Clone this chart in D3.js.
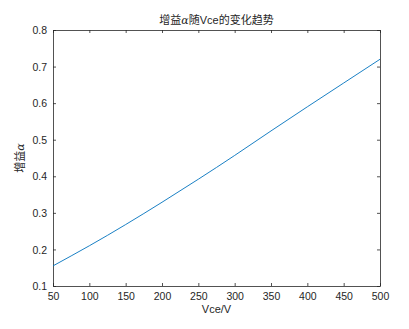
<!DOCTYPE html>
<html>
<head>
<meta charset="utf-8">
<script src="https://cdn.jsdelivr.net/npm/d3@7"></script>
<style>
  body { margin: 0; background: #fff; }
  text { font-family: "Liberation Sans", Arial, sans-serif; }
</style>
</head>
<body>
<svg></svg>
<script>
// data
const vce = [50, 100, 150, 200, 250, 300, 350, 400, 450, 500];
const alpha = [0.155, 0.21, 0.268, 0.329, 0.392, 0.457, 0.524, 0.59, 0.655, 0.72];
const xTicks = [50, 100, 150, 200, 250, 300, 350, 400, 450, 500];
const yTicks = [0.1, 0.2, 0.3, 0.4, 0.5, 0.6, 0.7, 0.8];

const width = 409, height = 329;
const margin = { top: 30, right: 29, bottom: 43, left: 53 };
const iw = width - margin.left - margin.right;
const ih = height - margin.top - margin.bottom;

const svg = d3.select("svg")
  .attr("width", width)
  .attr("height", height);

const g = svg.append("g")
  .attr("transform", `translate(${margin.left},${margin.top})`);

const x = d3.scaleLinear().domain([50, 500]).range([0, iw]);
const y = d3.scaleLinear().domain([0.1, 0.8]).range([ih, 0]);

const axisColor = "#262626";
const tickLen = 3;

// bottom + top axes
const xAxis = g.append("g")
  .attr("transform", `translate(0,${ih})`)
  .call(d3.axisBottom(x).tickValues(xTicks).tickSizeInner(-tickLen).tickSizeOuter(0).tickPadding(7));
const xTop = g.append("g")
  .call(d3.axisTop(x).tickValues(xTicks).tickSizeInner(-tickLen).tickSizeOuter(0).tickFormat(""));

// left + right axes
const yAxis = g.append("g")
  .call(d3.axisLeft(y).tickValues(yTicks).tickSizeInner(-tickLen).tickSizeOuter(0).tickPadding(6).tickFormat(d3.format(".1f")));
const yRight = g.append("g")
  .attr("transform", `translate(${iw},0)`)
  .call(d3.axisRight(y).tickValues(yTicks).tickSizeInner(-tickLen).tickSizeOuter(0).tickFormat(""));

[xAxis, xTop, yAxis, yRight].forEach(a => {
  a.select(".domain").attr("stroke", axisColor).attr("stroke-width", 0.8);
  a.selectAll(".tick line").attr("stroke", axisColor).attr("stroke-width", 0.8);
  a.selectAll(".tick text")
    .attr("fill", axisColor)
    .style("font-size", "10.5px")
    .style("font-family", "\"Liberation Sans\", Arial, sans-serif");
});
yAxis.selectAll(".tick text").attr("dy", "0.35em");

// the curve
const line = d3.line()
  .x((d, i) => x(vce[i]))
  .y(d => y(d))
  .curve(d3.curveNatural);

g.append("path")
  .datum(alpha)
  .attr("fill", "none")
  .attr("stroke", "#0072bd")
  .attr("stroke-width", 0.9)
  .attr("d", line);

// title
const title = svg.append("text")
  .attr("x", margin.left + iw / 2)
  .attr("y", 24)
  .attr("text-anchor", "middle")
  .attr("fill", "#262626")
  .style("font-size", "11px");
title.append("tspan").style("font-family", "\"Noto Sans CJK SC\", sans-serif").text("增益");
title.append("tspan").style("font-family", "\"DejaVu Serif\", serif").style("font-style", "italic").text("α");
title.append("tspan").style("font-family", "\"Noto Sans CJK SC\", sans-serif").text("随");
title.append("tspan").style("font-family", "\"Liberation Sans\", Arial, sans-serif").text("Vce");
title.append("tspan").style("font-family", "\"Noto Sans CJK SC\", sans-serif").text("的变化趋势");

// axis labels
svg.append("text")
  .attr("x", margin.left + iw / 2)
  .attr("y", 313)
  .attr("text-anchor", "middle")
  .attr("fill", "#262626")
  .style("font-size", "11px")
  .text("Vce/V");

const yl = svg.append("text")
  .attr("transform", `translate(24,${margin.top + ih / 2}) rotate(-90)`)
  .attr("text-anchor", "middle")
  .attr("fill", "#262626")
  .style("font-size", "11px");
yl.append("tspan").style("font-family", "\"Noto Sans CJK SC\", sans-serif").text("增益");
yl.append("tspan").style("font-family", "\"DejaVu Serif\", serif").style("font-style", "italic").text("α");
</script>
</body>
</html>
